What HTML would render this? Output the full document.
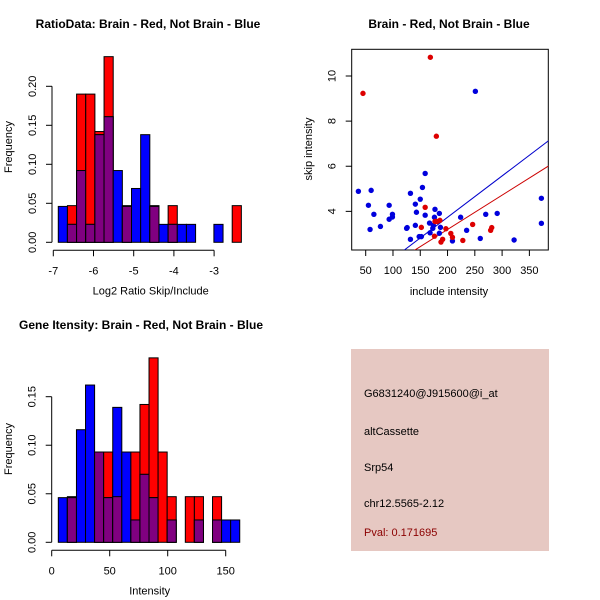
<!DOCTYPE html>
<html><head><meta charset="utf-8"><style>
body{margin:0;background:#fff}
svg{display:block;font-family:"Liberation Sans",sans-serif}
</style></head><body>
<svg id="c" width="600" height="600" xmlns="http://www.w3.org/2000/svg"></svg>
<script>
// Top-left histogram data (bin index -> frequency)
const ratioBinStart = -6.876;
const ratioBinWidth = 0.2277;
const ratioRed  = [0,0.047,0.19,0.19,0.142,0.238,0,0.047,0,0,0.047,0,0.047,0,0,0,0,0,0,0.047];
const ratioBlue = [0.046,0.023,0.092,0.023,0.138,0.161,0.092,0.046,0.069,0.138,0.046,0.023,0.023,0.023,0.023,0,0,0.023,0,0];
const ratioXTicks = [-7,-6,-5,-4,-3];
const ratioYTicks = [0,0.05,0.10,0.15,0.20];
const ratioYLabels = ["0.00","0.05","0.10","0.15","0.20"];
// Bottom-left histogram
const intBinStart = 5.7;
const intBinWidth = 7.82;
const intRed  = [0,0.047,0,0,0.093,0.093,0.047,0,0.093,0.142,0.19,0.093,0.047,0,0.047,0.047,0,0.047,0,0];
const intBlue = [0.046,0.046,0.116,0.162,0.093,0.046,0.139,0.093,0.023,0.07,0.046,0,0.023,0,0,0.023,0,0.023,0.023,0.023];
const intXTicks = [0,50,100,150];
const intYTicks = [0,0.05,0.10,0.15];
const intYLabels = ["0.00","0.05","0.10","0.15"];
// Scatter
const redX = [45,168.5,179.5,159,152,177,181,186,176,188,191,197,206,209,228,246,279,281];
const redY = [9.23,10.83,7.33,4.18,3.29,3.55,3.55,3.6,2.9,2.64,2.76,3.23,3.02,2.85,2.71,3.42,3.16,3.28];
const blueX = [36.6,55,60,58,65,77,93,93,99,99,125,126,132,132,141,143,141,150,148,152,154,159,159,167,168,173,174,176,177,185,187,185,209,224,235,251,260,270,291,322,372,372];
const blueY = [4.89,4.27,4.93,3.2,3.87,3.33,4.27,3.65,3.87,3.75,3.25,3.28,4.8,2.76,4.32,3.96,3.38,4.54,2.88,2.88,5.06,5.68,3.83,3.48,3.05,3.25,3.38,3.74,4.09,3.91,3.29,3.03,2.69,3.74,3.16,9.32,2.8,3.87,3.91,2.73,4.58,3.47];
const blueFit = [0.072,0.01833];
const redFit = [0.155,0.01521];
const scXTicks = [50,100,150,200,250,300,350];
const scYTicks = [4,6,8,10];

const NS="http://www.w3.org/2000/svg";
const svg=document.getElementById('c');
function mk(tag,attrs,parent){const e=document.createElementNS(NS,tag);for(const k in attrs)e.setAttribute(k,attrs[k]);(parent||svg).appendChild(e);return e;}
function txt(s,x,y,opt,name){const t=mk('text',Object.assign({x:x,y:y,'font-size':11,'text-anchor':'middle',fill:'#000'},opt||{}));t.textContent=s;


return t;}

function hist(o){
  const sx=v=>o.x0+(v-o.xmin)*o.xs, sy=v=>o.y0-v*o.ys;
  const g=mk('g',{});
  
  
  const n=Math.max(o.red.length,o.blue.length);
  for(let i=0;i<n;i++){
    const l=o.bs+i*o.bw, r=l+o.bw;
    const rv=o.red[i]||0, bv=o.blue[i]||0;
    const draw=(v,col,nm)=>{ if(v<=0)return; const e=mk('rect',{x:sx(l),y:sy(v),width:sx(r)-sx(l),height:sy(0)-sy(v),fill:col,stroke:'#000','stroke-width':1},g);
      
      };
    draw(rv,'#ff0000','bar-red');
    draw(bv,'#0000ff','bar-blue');
    if(rv>0&&bv>0) draw(Math.min(rv,bv),'#800080','bar-overlap');
  }
  const ax=mk('g',{stroke:'#000','stroke-width':1,fill:'none'});
  
  
  const ay=o.y0+8;
  mk('line',{x1:sx(o.xt[0]),x2:sx(o.xt[o.xt.length-1]),y1:ay,y2:ay},ax);
  o.xt.forEach(t=>{mk('line',{x1:sx(t),x2:sx(t),y1:ay,y2:ay+6},ax);txt(String(t),sx(t),ay+24,{},'x-tick-label');});
  const ayg=mk('g',{stroke:'#000','stroke-width':1,fill:'none'});
  
  
  const axx=o.x0-(o.yaxOff);
  mk('line',{x1:axx,x2:axx,y1:sy(o.yt[0]),y2:sy(o.yt[o.yt.length-1])},ayg);
  o.yt.forEach((t,i)=>{mk('line',{x1:axx,x2:axx-6,y1:sy(t),y2:sy(t)},ayg);
    txt(o.yl[i],0,0,{transform:`translate(${axx-16},${sy(t)}) rotate(-90)`},'y-tick-label');});
  txt(o.xlab,(sx(o.xt[0])+sx(o.xt[o.xt.length-1]))/2+o.xlabShift,o.y0+52,{},'x-axis-title');
  txt('Frequency',0,0,{transform:`translate(12,${o.ymid}) rotate(-90)`},'y-axis-title');
  txt(o.title,o.tx,o.ty,{'font-weight':'bold','font-size':12},'chart-title');
}
hist({name:'ratio-histogram',red:ratioRed,blue:ratioBlue,bs:ratioBinStart,bw:ratioBinWidth,xmin:-7,x0:53.3,xs:40.2,y0:242.3,ys:780,
  xt:ratioXTicks,yt:ratioYTicks,yl:ratioYLabels,yaxOff:1.3,xlab:'Log2 Ratio Skip/Include',xlabShift:17,ymid:147,title:'RatioData: Brain - Red, Not Brain - Blue',tx:148,ty:28});
hist({name:'intensity-histogram',red:intRed,blue:intBlue,bs:intBinStart,bw:intBinWidth,xmin:0,x0:51.7,xs:1.16,y0:542.3,ys:970.7,
  xt:intXTicks,yt:intYTicks,yl:intYLabels,yaxOff:0,xlab:'Intensity',xlabShift:11,ymid:449,title:'Gene Itensity: Brain - Red, Not Brain - Blue',tx:141,ty:329});

// scatter
const L=351.7,R=548.3,T=49.3,B=250;
const sx=v=>365.7+(v-50)*0.5456, sy=v=>76+(10-v)*22.56;
const sg=mk('g',{});


const cp=mk('clipPath',{id:'cp'},sg);
mk('rect',{x:L,y:T,width:R-L,height:B-T},cp);
const box=mk('rect',{x:L,y:T,width:R-L,height:B-T,fill:'none',stroke:'#000'},sg);


[[blueFit,'#0000cc','fit-line-blue'],[redFit,'#cc0000','fit-line-red']].forEach(([f,c,n])=>{
  const x1=0,x2=400;const ln=mk('line',{x1:sx(x1),y1:sy(f[0]+f[1]*x1),x2:sx(x2),y2:sy(f[0]+f[1]*x2),stroke:c,'stroke-width':1,'clip-path':'url(#cp)'},sg);
  
  });
blueX.forEach((x,i)=>{const p=mk('circle',{cx:sx(x),cy:sy(blueY[i]),r:2.7,fill:'#0000dd'},sg);
  
  });
redX.forEach((x,i)=>{const p=mk('circle',{cx:sx(x),cy:sy(redY[i]),r:2.7,fill:'#dd0000'},sg);
  
  });
scXTicks.forEach(t=>{mk('line',{x1:sx(t),x2:sx(t),y1:B,y2:B+6,stroke:'#000'},sg);txt(String(t),sx(t),B+24,{},'x-tick-label');});
scYTicks.forEach(t=>{mk('line',{x1:L,x2:L-6,y1:sy(t),y2:sy(t),stroke:'#000'},sg);txt(String(t),0,0,{transform:`translate(${L-16},${sy(t)}) rotate(-90)`},'y-tick-label');});
txt('include intensity',449,295,{},'x-axis-title');
txt('skip intensity',0,0,{transform:`translate(312,149) rotate(-90)`},'y-axis-title');
txt('Brain - Red, Not Brain - Blue',449,28,{'font-weight':'bold','font-size':12},'chart-title');

// info panel
const ip=mk('g',{});


mk('rect',{x:351,y:349,width:198,height:202,fill:'#e6c8c2'},ip);
[['G6831240@J915600@i_at',397,'#000','probe-id'],['altCassette',435,'#000','event-type'],['Srp54',471,'#000','gene-name'],['chr12.5565-2.12',507,'#000','location'],['Pval: 0.171695',536,'#8b0000','p-value']]
.forEach(([s,y,c,n])=>txt(s,364,y,{'text-anchor':'start',fill:c,'font-size':11},n));
</script>
</body></html>
